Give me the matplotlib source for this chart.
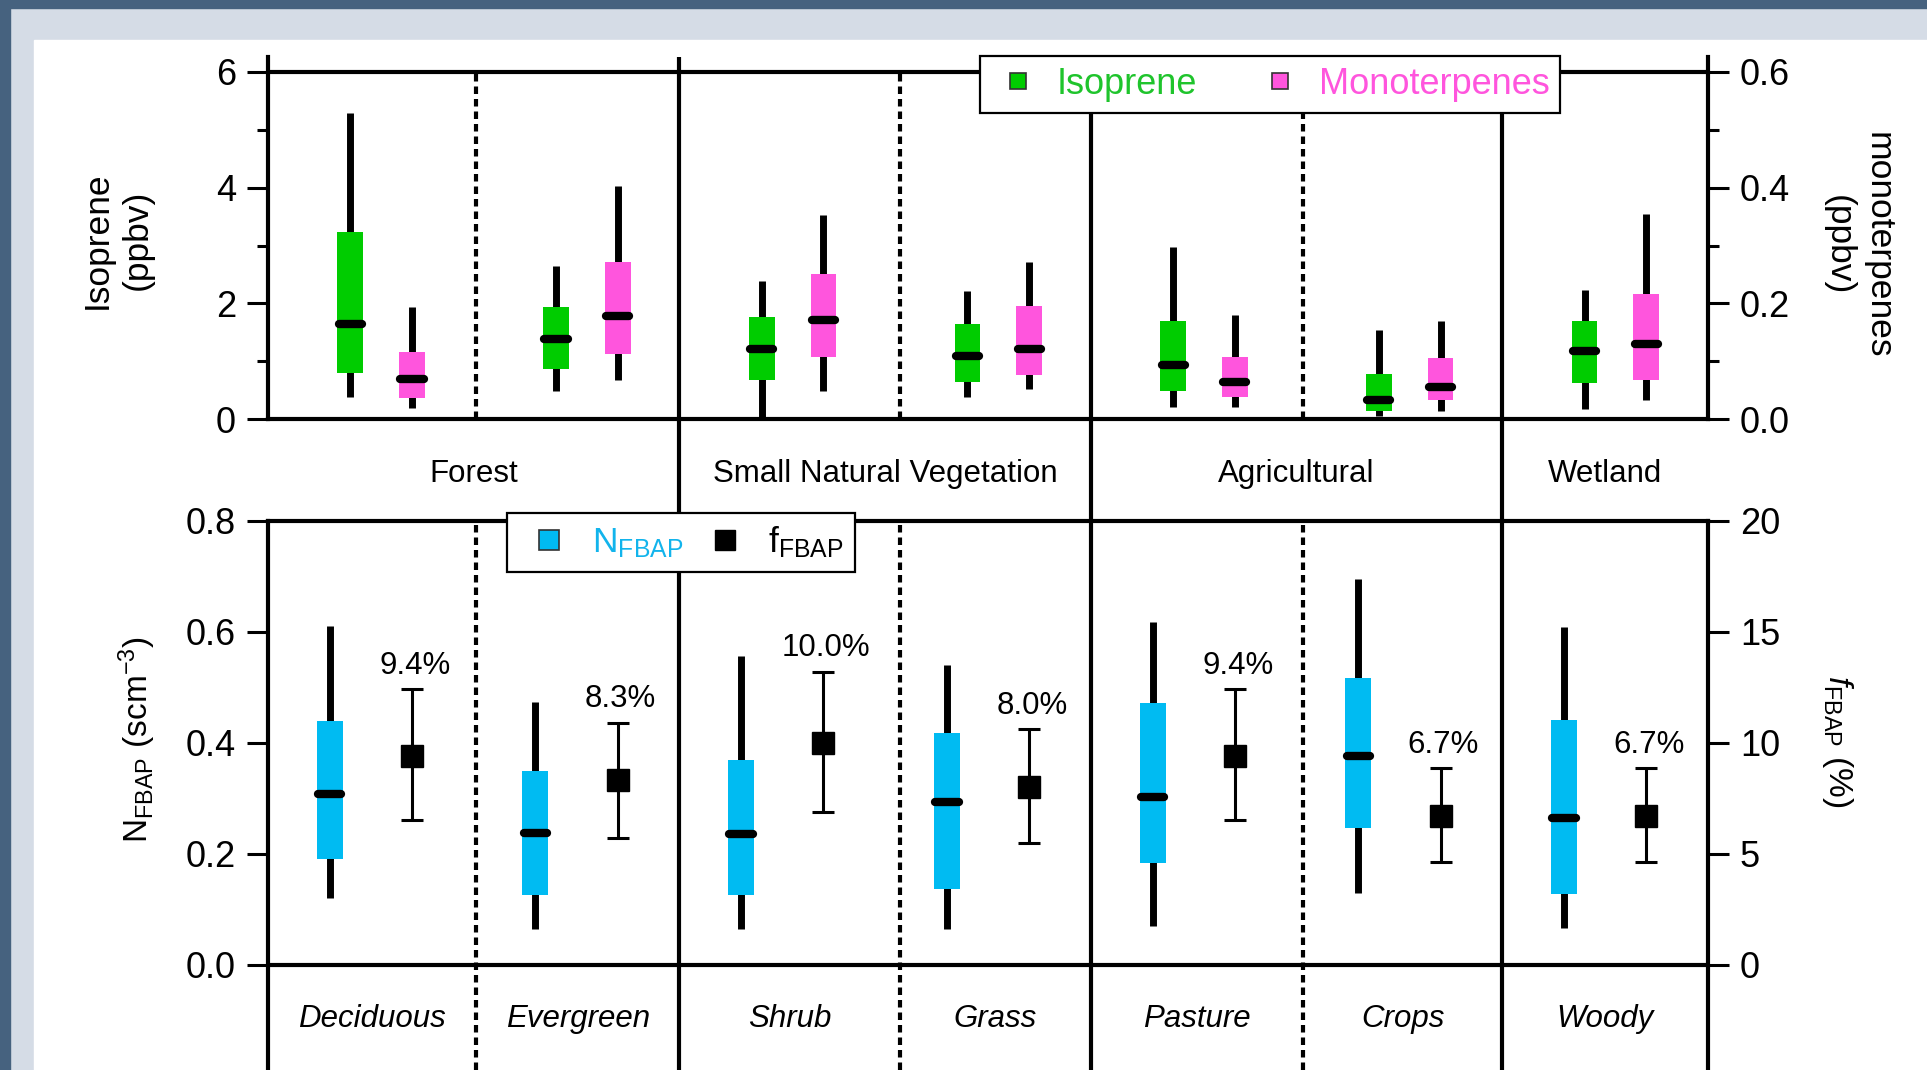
"""
Isoprene / monoterpene and FBAP statistics per land-cover class.
Two stacked panels sharing the same land-cover x layout.
"""
import matplotlib
matplotlib.use("Agg")
import matplotlib.pyplot as plt
import numpy as np
from matplotlib.lines import Line2D
from matplotlib.patches import Rectangle
from matplotlib.transforms import blended_transform_factory

plt.rcParams["font.family"] = ["Liberation Sans", "DejaVu Sans"]
plt.rcParams["mathtext.fontset"] = "custom"
plt.rcParams["mathtext.rm"] = "Liberation Sans"
plt.rcParams["mathtext.it"] = "Liberation Sans:italic"
plt.rcParams["mathtext.bf"] = "Liberation Sans:bold"

# ---------------- categories -------------------------------------------------
CATEGORIES = ["Forest", "Small Natural Vegetation", "Agricultural", "Wetland"]
GROUP_SIZES = [2, 2, 2, 1]
SUBCATS = ["Deciduous", "Evergreen", "Shrub", "Grass", "Pasture", "Crops", "Woody"]

# ---------------- isoprene (ppbv): whisker lo, q1, median, q3, whisker hi ----
ISO_WLO = [0.38, 0.49, 0.00, 0.39, 0.21, 0.06, 0.17]
ISO_Q1 = [0.80, 0.86, 0.67, 0.65, 0.48, 0.15, 0.63]
ISO_MED = [1.64, 1.38, 1.21, 1.10, 0.94, 0.33, 1.18]
ISO_Q3 = [3.24, 1.94, 1.76, 1.64, 1.70, 0.78, 1.70]
ISO_WHI = [5.29, 2.65, 2.39, 2.21, 2.98, 1.55, 2.23]

# ---------------- monoterpenes (ppbv) ----------------------------------------
MT_WLO = [0.019, 0.068, 0.048, 0.052, 0.022, 0.015, 0.033]
MT_Q1 = [0.036, 0.113, 0.108, 0.076, 0.038, 0.033, 0.067]
MT_MED = [0.069, 0.179, 0.172, 0.122, 0.065, 0.055, 0.130]
MT_Q3 = [0.117, 0.271, 0.251, 0.195, 0.107, 0.105, 0.216]
MT_WHI = [0.194, 0.402, 0.352, 0.271, 0.180, 0.170, 0.355]

# ---------------- N_FBAP (scm-3) ---------------------------------------------
N_WLO = [0.120, 0.065, 0.065, 0.065, 0.070, 0.130, 0.067]
N_Q1 = [0.191, 0.126, 0.126, 0.136, 0.184, 0.247, 0.128]
N_MED = [0.308, 0.237, 0.235, 0.294, 0.303, 0.376, 0.264]
N_Q3 = [0.439, 0.349, 0.368, 0.418, 0.472, 0.516, 0.441]
N_WHI = [0.610, 0.474, 0.556, 0.540, 0.617, 0.694, 0.609]

# ---------------- f_FBAP (%) -------------------------------------------------
F_MED = [9.4, 8.3, 10.0, 8.0, 9.4, 6.7, 6.7]
F_LO = [6.5, 5.7, 6.9, 5.5, 6.5, 4.65, 4.65]
F_HI = [12.4, 10.9, 13.2, 10.6, 12.4, 8.85, 8.85]

# ---------------- styling ----------------------------------------------------
GREEN = "#00cc00"
PINK = "#ff55dd"
CYAN = "#00bbf2"
TXT_GREEN = "#1fc42c"
TXT_PINK = "#ff55dd"
TXT_CYAN = "#12b4ec"
DARK_FRAME = "#46627f"
LIGHT_FRAME = "#d5dce6"
LW = 3.0

SOLID_SEP = [2, 4, 6]
DASHED_SEP = [1.01, 3.07, 5.03]

# pixel layout of the reference
W_PX, H_PX = 1927, 1070
X_LEFT, X_RIGHT = 268, 1708
TOP_Y6, TOP_Y0, TOP_EXT = 71.7, 419.3, 57
BOT_Y8, BOT_Y0 = 520.5, 964.8


def fy(py):
    return 1 - py / H_PX


def box_series(ax, x, wlo, q1, med, q3, whi, color, width=0.125):
    x = np.asarray(x)
    q1, q3 = np.asarray(q1), np.asarray(q3)
    ax.vlines(x, wlo, whi, color="k", lw=5, zorder=2, capstyle="butt")
    ax.bar(x, q3 - q1, bottom=q1, width=width, color=color, lw=0, zorder=3)
    ax.hlines(med, x - width * 0.45, x + width * 0.45, color="k", lw=6,
              zorder=4, capstyle="round")


fig = plt.figure(figsize=(W_PX / 100, H_PX / 100), dpi=100)
fig.patch.set_facecolor(LIGHT_FRAME)
fig.add_artist(Rectangle((0, 0), 10 / W_PX, 1, transform=fig.transFigure,
                         color=DARK_FRAME, zorder=-10))
fig.add_artist(Rectangle((0, fy(8)), 1, 8 / H_PX, transform=fig.transFigure,
                         color=DARK_FRAME, zorder=-10))
fig.add_artist(Rectangle((34 / W_PX, 0), 1, fy(40), transform=fig.transFigure,
                         color="white", zorder=-9))

ax_w = (X_RIGHT - X_LEFT) / W_PX
ax_top = fig.add_axes([X_LEFT / W_PX, fy(TOP_Y0), ax_w, (TOP_Y0 - TOP_EXT) / H_PX])
ax_top_r = ax_top.twinx()
ax_bot = fig.add_axes([X_LEFT / W_PX, 0, ax_w, fy(BOT_Y8)])
ax_bot_r = ax_bot.twinx()

iso_top = 6 * (TOP_Y0 - TOP_EXT) / (TOP_Y0 - TOP_Y6)
n_low = -0.8 * (H_PX - BOT_Y0) / (BOT_Y0 - BOT_Y8)
ax_top.set_ylim(0, iso_top)
ax_top_r.set_ylim(0, iso_top / 10)
ax_bot.set_ylim(n_low, 0.8)
ax_bot_r.set_ylim(n_low * 25, 20)
for ax in (ax_top, ax_top_r, ax_bot, ax_bot_r):
    ax.set_xlim(0, 7)
    ax.set_facecolor("none")
    ax.tick_params(axis="x", bottom=False, top=False, labelbottom=False)
    ax.tick_params(axis="y", which="major", direction="out", length=15,
                   width=2.2, labelsize=26, pad=8)
    ax.tick_params(axis="y", which="minor", direction="out", length=8, width=2.2)
    for s in ax.spines.values():
        s.set_visible(False)
        s.set_linewidth(LW)

ax_top.spines["left"].set_visible(True)
ax_top.spines["bottom"].set_visible(True)
ax_top_r.spines["right"].set_visible(True)
ax_bot.spines["left"].set_visible(True)
ax_bot.spines["top"].set_visible(True)
ax_bot_r.spines["right"].set_visible(True)

ax_top.set_yticks([0, 2, 4, 6])
ax_top.set_yticks([1, 3, 5], minor=True)
ax_top_r.set_yticks([0, 0.2, 0.4, 0.6])
ax_top_r.set_yticks([0.1, 0.3, 0.5], minor=True)
ax_top_r.set_yticklabels(["0.0", "0.2", "0.4", "0.6"])
ax_bot.set_yticks([0, 0.2, 0.4, 0.6, 0.8])
ax_bot.set_yticklabels(["0.0", "0.2", "0.4", "0.6", "0.8"])
ax_bot_r.set_yticks([0, 5, 10, 15, 20])

# frame lines
ax_top.axhline(6, color="k", lw=LW, zorder=1)
ax_bot.axhline(0, color="k", lw=LW, zorder=1)

trans_top = blended_transform_factory(ax_top.transData, fig.transFigure)
for xs in SOLID_SEP:
    ax_top.plot([xs, xs], [0, fy(TOP_EXT)], transform=trans_top, color="k",
                lw=LW, clip_on=False, solid_capstyle="butt", zorder=1)
for xd in DASHED_SEP:
    ax_top.plot([xd, xd], [0, 6], color="k", lw=LW, ls=(0, (1.8, 1.2)),
                zorder=1, dash_capstyle="butt")
    ax_bot.plot([xd, xd], [n_low, 0.8], color="k", lw=LW, ls=(0, (1.8, 1.2)),
                zorder=1, dash_capstyle="butt", clip_on=False)

# ---------------- top panel marks --------------------------------------------
idx = np.arange(len(SUBCATS))
box_series(ax_top, idx + 0.40, ISO_WLO, ISO_Q1, ISO_MED, ISO_Q3, ISO_WHI, GREEN)
box_series(ax_top_r, idx + 0.70, MT_WLO, MT_Q1, MT_MED, MT_Q3, MT_WHI, PINK)

# ---------------- bottom panel marks -----------------------------------------
box_series(ax_bot, idx + 0.30, N_WLO, N_Q1, N_MED, N_Q3, N_WHI, CYAN, width=0.127)
f_med = np.array(F_MED)
ax_bot_r.errorbar(idx + 0.70, f_med,
                  yerr=[f_med - np.array(F_LO), np.array(F_HI) - f_med],
                  fmt="s", color="k", ms=15.5, elinewidth=2.2, capsize=8,
                  capthick=2.2, zorder=3)
for x, v, hi in zip(idx + 0.70, F_MED, F_HI):
    ax_bot_r.annotate(f"{v:.1f}%", (x, hi), textcoords="offset points",
                      xytext=(2, 11), ha="center", va="baseline", fontsize=22.5)

# ---------------- category labels --------------------------------------------
edges = np.concatenate([[0], np.cumsum(GROUP_SIZES)])
for name, a, b in zip(CATEGORIES, edges[:-1], edges[1:]):
    ax_top.text((a + b) / 2, fy(482), name, transform=trans_top, ha="center",
                va="baseline", fontsize=22.5)

bounds = [0, DASHED_SEP[0], 2, DASHED_SEP[1], 4, DASHED_SEP[2], 6, 7]
trans_bot = blended_transform_factory(ax_bot.transData, fig.transFigure)
for name, a, b in zip(SUBCATS, bounds[:-1], bounds[1:]):
    ax_bot.text((a + b) / 2, fy(1027), name, transform=trans_bot, ha="center",
                va="baseline", fontsize=22.5, style="italic")

# ---------------- axis titles ------------------------------------------------
fig.text(117 / W_PX, fy(240), "Isoprene\n(ppbv)", rotation=90, ha="center",
         va="center", multialignment="center", fontsize=25.5, linespacing=1.25)
fig.text(1858 / W_PX, fy(245), "monoterpenes\n(ppbv)", rotation=270,
         ha="center", va="center", multialignment="center", fontsize=25.5,
         linespacing=1.25)
fig.text(137 / W_PX, fy(740), r"$\mathrm{N}_{\mathrm{FBAP}}$ (scm$^{-3}$)",
         rotation=90, ha="center", va="center", fontsize=24)
fig.text(1838 / W_PX, fy(741), r"$\mathit{f}_{\mathrm{FBAP}}$ (%)",
         rotation=270, ha="center", va="center", fontsize=24)

# ---------------- legends ----------------------------------------------------
top_handles = [
    Line2D([], [], ls="none", marker="s", ms=12, mfc=GREEN, mec="#333333", mew=1.2),
    Line2D([], [], ls="none", marker="s", ms=12, mfc=PINK, mec="#333333", mew=1.2),
]
leg = ax_top_r.legend(top_handles, ["Isoprene", "Monoterpenes"], loc="upper left",
                      bbox_to_anchor=(980 / W_PX, fy(56)),
                      bbox_transform=fig.transFigure, ncol=2, fontsize=26,
                      fancybox=False, edgecolor="k", framealpha=1,
                      borderpad=0.3, borderaxespad=0, handlelength=1.5,
                      handletextpad=0.32, columnspacing=1.55,
                      labelcolor=[TXT_GREEN, TXT_PINK])
leg.get_frame().set_linewidth(1.6)

bot_handles = [
    Line2D([], [], ls="none", marker="s", ms=15, mfc=CYAN, mec="#333333", mew=1.2),
    Line2D([], [], ls="none", marker="s", ms=15, mfc="k", mec="k"),
]
leg2 = ax_bot_r.legend(bot_handles,
                       [r"$\mathrm{N}_{\mathrm{FBAP}}$", r"$\mathrm{f}_{\mathrm{FBAP}}$"],
                       loc="upper left", bbox_to_anchor=(507 / W_PX, fy(513)),
                       bbox_transform=fig.transFigure, ncol=2, fontsize=25.5,
                       fancybox=False, edgecolor="k", framealpha=1,
                       borderpad=0.33, borderaxespad=0, handlelength=1.7,
                       handletextpad=0.36, columnspacing=0.35,
                       labelcolor=[TXT_CYAN, "k"])
leg2.get_frame().set_linewidth(1.6)

fig.savefig("out.png", dpi=100, facecolor=fig.get_facecolor())
